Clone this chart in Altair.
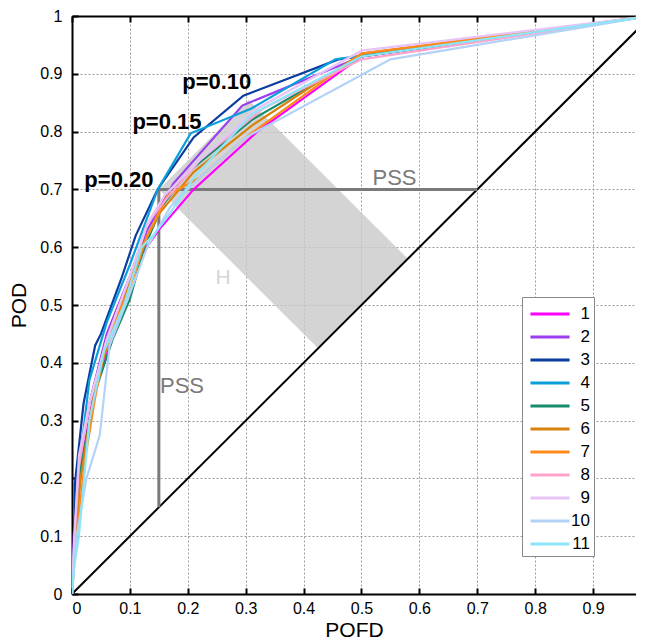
import altair as alt
import pandas as pd

# ---------------- data ----------------
series_names = [str(i) for i in range(1, 12)]
series_colors = ["#ff00ff", "#9d3df0", "#0b3c9f", "#0b9fd9", "#178c6c", "#d7820f",
                 "#ff8a1c", "#ffa3cc", "#e7c4f8", "#b3d2f7", "#8de6f8"]

pofd_1 = [0, 0.003, 0.015, 0.04, 0.08, 0.115, 0.15, 0.21, 0.32, 0.50, 1]
pod_1 = [0, 0.08, 0.22, 0.36, 0.47, 0.58, 0.63, 0.70, 0.80, 0.93, 1]
pofd_2 = [0, 0.003, 0.011, 0.03, 0.06, 0.10, 0.13, 0.175, 0.294, 0.50, 1]
pod_2 = [0, 0.10, 0.235, 0.33, 0.45, 0.55, 0.63, 0.71, 0.845, 0.93, 1]
pofd_3 = [0, 0.004, 0.005, 0.02, 0.04, 0.05, 0.085, 0.11, 0.148, 0.21, 0.296, 0.46, 1]
pod_3 = [0, 0.10, 0.19, 0.33, 0.43, 0.45, 0.545, 0.62, 0.70, 0.79, 0.862, 0.925, 1]
pofd_4 = [0, 0.004, 0.01, 0.03, 0.06, 0.10, 0.148, 0.205, 0.31, 0.455, 1]
pod_4 = [0, 0.09, 0.20, 0.37, 0.47, 0.57, 0.70, 0.797, 0.84, 0.925, 1]
pofd_5 = [0, 0.004, 0.015, 0.04, 0.07, 0.10, 0.125, 0.155, 0.20, 0.31, 0.50, 1]
pod_5 = [0, 0.07, 0.22, 0.35, 0.44, 0.51, 0.60, 0.67, 0.73, 0.82, 0.93, 1]
pofd_6 = [0, 0.004, 0.015, 0.04, 0.07, 0.10, 0.12, 0.152, 0.21, 0.31, 0.50, 1]
pod_6 = [0, 0.08, 0.20, 0.36, 0.46, 0.54, 0.60, 0.66, 0.73, 0.81, 0.935, 1]
pofd_7 = [0, 0.004, 0.022, 0.04, 0.06, 0.10, 0.13, 0.165, 0.22, 0.30, 0.50, 1]
pod_7 = [0, 0.06, 0.23, 0.34, 0.44, 0.53, 0.62, 0.69, 0.72, 0.79, 0.935, 1]
pofd_8 = [0, 0.004, 0.012, 0.03, 0.06, 0.10, 0.13, 0.16, 0.22, 0.33, 0.50, 1]
pod_8 = [0, 0.09, 0.22, 0.33, 0.44, 0.55, 0.64, 0.68, 0.75, 0.84, 0.925, 1]
pofd_9 = [0, 0.004, 0.012, 0.03, 0.06, 0.10, 0.13, 0.16, 0.22, 0.32, 0.50, 1]
pod_9 = [0, 0.10, 0.24, 0.33, 0.44, 0.55, 0.64, 0.69, 0.75, 0.84, 0.94, 1]
pofd_10 = [0, 0.008, 0.025, 0.048, 0.065, 0.10, 0.13, 0.17, 0.22, 0.30, 0.55, 1]
pod_10 = [0, 0.10, 0.20, 0.275, 0.43, 0.52, 0.60, 0.67, 0.72, 0.79, 0.925, 1]
pofd_11 = [0, 0.004, 0.012, 0.03, 0.055, 0.09, 0.12, 0.14, 0.17, 0.21, 0.31, 0.50, 1]
pod_11 = [0, 0.05, 0.10, 0.30, 0.42, 0.50, 0.60, 0.62, 0.66, 0.72, 0.83, 0.93, 1]

pofd_all = [pofd_1, pofd_2, pofd_3, pofd_4, pofd_5, pofd_6, pofd_7, pofd_8, pofd_9, pofd_10, pofd_11]
pod_all = [pod_1, pod_2, pod_3, pod_4, pod_5, pod_6, pod_7, pod_8, pod_9, pod_10, pod_11]

# diagonal (no-skill line)
diag_x = [0, 1]
diag_y = [0, 1]

# grey "H" band (rectangle perpendicular to the diagonal)
band_x = [0.15, 0.305, 0.425, 0.58]
band_top = [0.70, 0.855, 0.735, 0.58]
band_bot = [0.70, 0.545, 0.425, 0.58]

# PSS lines
pss_x = 0.15
pss_y = 0.70

# annotations
p_labels = ["p=0.10", "p=0.15", "p=0.20"]
p_x = [0.25, 0.164, 0.081]
p_y = [0.886, 0.817, 0.717]
pss_labels = ["PSS", "PSS"]
pss_lx = [0.557, 0.19]
pss_ly = [0.72, 0.36]
h_labels = ["H"]
h_x = [0.261]
h_y = [0.547]

x_ticks = [0, 0.1, 0.2, 0.3, 0.4, 0.5, 0.6, 0.7, 0.8, 0.9]
y_ticks = [0, 0.1, 0.2, 0.3, 0.4, 0.5, 0.6, 0.7, 0.8, 0.9, 1]
x_visible_max = 0.9741   # the picture is cut just before POFD = 1

# ---------------- build tables ----------------
rows = []
for name, xs_, ys_ in zip(series_names, pofd_all, pod_all):
    for i, (a, b) in enumerate(zip(xs_, ys_)):
        rows.append({"series": name, "pofd": a, "pod": b, "idx": i})
curves_df = pd.DataFrame(rows)
diag_df = pd.DataFrame({"x": diag_x, "y": diag_y})
band_df = pd.DataFrame({"x": band_x, "y": band_top, "y2": band_bot})
vrule_df = pd.DataFrame({"x": [pss_x], "y": [pss_x], "y2": [pss_y]})
hrule_df = pd.DataFrame({"x": [pss_x], "x2": [pss_y], "y": [pss_y]})
p_df = pd.DataFrame({"t": p_labels, "x": p_x, "y": p_y})
pss_df = pd.DataFrame({"t": pss_labels, "x": pss_lx, "y": pss_ly})
h_df = pd.DataFrame({"t": h_labels, "x": h_x, "y": h_y})

FONT = "Liberation Sans"
xs = alt.Scale(domain=[0, x_visible_max], nice=False, zero=False)
ys = alt.Scale(domain=[0, 1], nice=False, zero=False)

grid_kw = dict(grid=True, gridDash=[2, 2], gridColor="#9a9a9a", gridWidth=1)

# main axes (labels, titles, grid, domain)
band = alt.Chart(band_df).mark_area(color="#c9c9c9", opacity=0.8).encode(
    x=alt.X("x:Q", scale=xs, axis=alt.Axis(
        orient="bottom", values=x_ticks, format="~g", title="POFD", ticks=False,
        domainColor="black", domainWidth=2, labelPadding=6, labelFontSize=16,
        labelColor="black", titleFontSize=21, titleColor="black", titleFontWeight="normal",
        titlePadding=3, labelFont=FONT, titleFont=FONT, **grid_kw)),
    y=alt.Y("y:Q", scale=ys, axis=alt.Axis(
        orient="left", values=y_ticks, format="~g", title="POD", ticks=False,
        domainColor="black", domainWidth=2, labelPadding=10, labelFontSize=16,
        labelColor="black", titleFontSize=21, titleColor="black", titleFontWeight="normal",
        titlePadding=10, labelFont=FONT, titleFont=FONT, **grid_kw)),
    y2="y2:Q",
)

# inward ticks (bottom / left)
diag = alt.Chart(diag_df).mark_line(color="black", strokeWidth=2, clip=True).encode(
    x=alt.X("x:Q", scale=xs, axis=alt.Axis(
        orient="bottom", offset=-6, values=x_ticks, labels=False, domain=False, grid=False,
        tickSize=6, tickColor="black", tickWidth=2, title=None)),
    y=alt.Y("y:Q", scale=ys, axis=alt.Axis(
        orient="left", offset=-6, values=y_ticks, labels=False, domain=False, grid=False,
        tickSize=6, tickColor="black", tickWidth=2, title=None)),
)

# PSS lines, carrying the top border and its inward ticks
vrule = alt.Chart(vrule_df).mark_rule(color="#7a7a7a", strokeWidth=3).encode(
    x=alt.X("x:Q", scale=xs, axis=alt.Axis(
        orient="top", values=x_ticks, labels=False, ticks=False, grid=False,
        domainColor="black", domainWidth=2, title=None)),
    y=alt.Y("y:Q", scale=ys, axis=None),
    y2="y2:Q",
)
hrule = alt.Chart(hrule_df).mark_rule(color="#7a7a7a", strokeWidth=3).encode(
    x=alt.X("x:Q", scale=xs, axis=alt.Axis(
        orient="top", offset=-6, values=x_ticks, labels=False, domain=False, grid=False,
        tickSize=6, tickColor="black", tickWidth=2, title=None)),
    x2="x2:Q",
    y=alt.Y("y:Q", scale=ys, axis=None),
)

curves = alt.Chart(curves_df).mark_line(strokeWidth=2.2, clip=True).encode(
    x=alt.X("pofd:Q", scale=xs, axis=None),
    y=alt.Y("pod:Q", scale=ys, axis=None),
    order="idx:Q",
    color=alt.Color("series:N", sort=series_names,
                    scale=alt.Scale(domain=series_names, range=series_colors),
                    legend=alt.Legend(
                        orient="none", legendX=450, legendY=281, title=None,
                        symbolType="M-1.7,0H1.7", symbolSize=529, symbolStrokeWidth=3,
                        labelFontSize=17, labelFont=FONT, labelColor="black",
                        labelAlign="right", labelOffset=27,
                        padding=4, strokeColor="#888888", fillColor="white",
                        rowPadding=2, symbolOffset=11)),
)

p_text = alt.Chart(p_df).mark_text(fontSize=22, font=FONT, fontWeight="bold", color="black").encode(
    x=alt.X("x:Q", scale=xs, axis=None), y=alt.Y("y:Q", scale=ys, axis=None), text="t:N")
pss_text = alt.Chart(pss_df).mark_text(fontSize=22, font=FONT, color="#7a7a7a").encode(
    x=alt.X("x:Q", scale=xs, axis=None), y=alt.Y("y:Q", scale=ys, axis=None), text="t:N")
h_text = alt.Chart(h_df).mark_text(fontSize=21, font=FONT, color="#d6d6d6").encode(
    x=alt.X("x:Q", scale=xs, axis=None), y=alt.Y("y:Q", scale=ys, axis=None), text="t:N")

chart = alt.layer(band, diag, vrule, hrule, curves, p_text, pss_text, h_text).resolve_axis(
    x="independent", y="independent"
).properties(
    width=564, height=578, padding={"left": 0, "top": 0, "right": 0, "bottom": 0}
).configure_view(stroke=None).configure(background="white")

chart.save("out.html", embed_options={"renderer": "svg", "actions": False})
